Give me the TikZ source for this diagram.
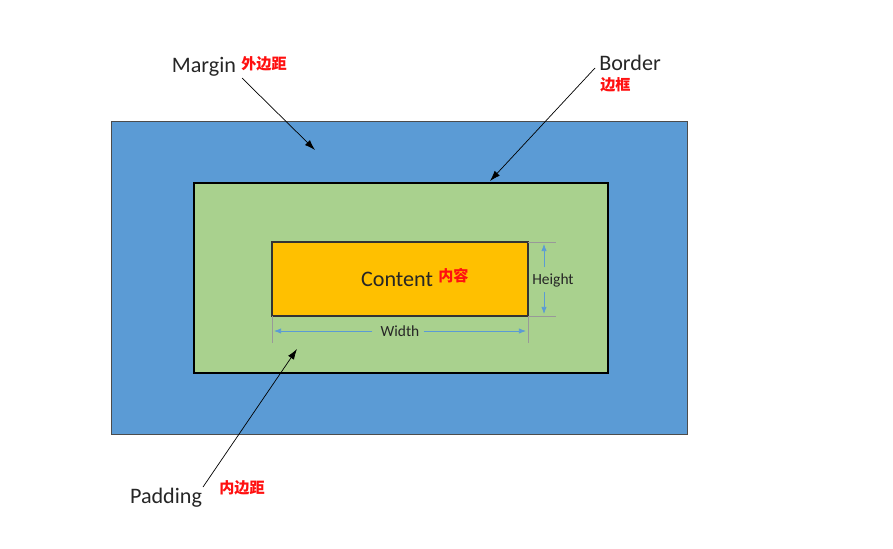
\documentclass[tikz,border=0pt]{standalone}
\usepackage{fontspec}
\setmainfont{Carlito}
\newfontfamily\cjk{Noto Sans CJK SC}
\usetikzlibrary{positioning,arrows.meta}
\definecolor{marginblue}{HTML}{5B9BD5}
\definecolor{paddinggreen}{HTML}{A9D18E}
\definecolor{contentorange}{HTML}{FFC000}
\definecolor{dimblue}{HTML}{5B9BD5}
\definecolor{labelred}{HTML}{FF1010}
\tikzset{
  en/.style={text=black!85, font=\fontsize{12.6}{14}\selectfont, inner sep=0pt},
  zh/.style={text=labelred, font=\cjk\bfseries\fontsize{8.6}{10}\selectfont, inner sep=0pt},
  dimlabel/.style={text=black!85, font=\fontsize{8.8}{10}\selectfont, inner sep=0pt},
  dimline/.style={draw=dimblue, thin, -{Latex[length=4pt,width=3pt]}},
  extline/.style={draw=gray!80, very thin},
  pointer/.style={thin, -{Latex[length=6pt,width=4pt]}}
}
\begin{document}
\begin{tikzpicture}[x=0.02cm,y=-0.02cm]
  \useasboundingbox (0,0) rectangle (893,548);
  %% margin
  \draw[fill=marginblue, draw=black!70, thin] (111,121) rectangle (687,434);
  %% padding
  \draw[fill=paddinggreen, draw=black, line width=1.4pt] (194,183) rectangle (608,373);
  %% content
  \draw[fill=contentorange, draw=black!80, line width=0.6pt] (272,242) rectangle (528,316);
  \node[en] (content) at (397,279) {Content};
  \node[zh, anchor=west] (contentzh) at (438,276) {内容};
  %% height
  \draw[extline] (528,242) -- (556,242);
  \draw[extline] (528,316) -- (556,316);
  \node[dimlabel] (height) at (553,280) {Height};
  \coordinate (htop) at (544,244);
  \coordinate (hbot) at (544,314);
  \draw[dimline] (544,267) -- (htop);
  \draw[dimline] (544,292) -- (hbot);
  %% width
  \draw[extline] (272,316) -- (272,343);
  \draw[extline] (528,316) -- (528,343);
  \node[dimlabel] (width) at (400,331) {Width};
  \coordinate (wleft) at (274,331);
  \coordinate (wright) at (526,331);
  \draw[dimline] (width.west) ++(-8,0) -- (wleft);
  \draw[dimline] (width.east) ++(4,0) -- (wright);
  %% labels
  \node[en] (margin) at (204,67) {Margin};
  \node[zh, anchor=west] (marginzh) at (241,64) {外边距};
  \node[en] (border) at (630,63) {Border};
  \node[zh, anchor=west] (borderzh) at (600,85) {边框};
  \node[en] (padding) at (166,498) {Padding};
  \node[zh, anchor=west] (paddingzh) at (219,488) {内边距};
  %% pointers
  \coordinate (margintail) at (242,78);
  \coordinate (margintip) at (315,150);
  \draw[pointer] (margintail) -- (margintip);
  \coordinate (bordertail) at (595,68);
  \coordinate (bordertip) at (490,181);
  \draw[pointer] (bordertail) -- (bordertip);
  \coordinate (paddingtail) at (203,487);
  \coordinate (paddingtip) at (297,349);
  \draw[pointer] (paddingtail) -- (paddingtip);
\end{tikzpicture}
\end{document}
